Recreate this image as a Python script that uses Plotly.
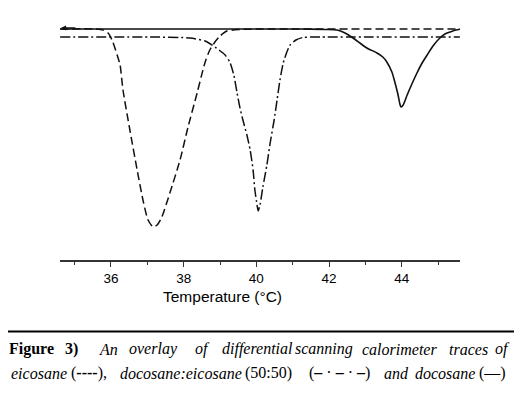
import plotly.graph_objects as go

# Temperatures (°C) and heat-flow signal (arbitrary units, downward = endotherm)
eico_T = [34.60, 35.56, 35.78, 35.92, 36.03, 36.17, 36.25, 36.33, 36.52, 36.72, 36.88, 37.02, 37.16,
          37.27, 37.40, 37.62, 37.90, 38.12, 38.37, 38.53, 38.61, 38.72, 38.86, 39.00, 39.19, 39.55,
          40.10, 45.60]
eico_S = [0, 0, -0.1, -0.4, -1.1, -2.6, -3.6, -6.1, -10.1, -14.1, -17.1, -19.1, -19.8,
          -19.6, -18.8, -16.4, -13.1, -9.8, -6.4, -4.1, -3.1, -2.1, -1.3, -0.7, -0.2, -0.05,
          0, 0]

mix_T = [34.60, 37.07, 38.17, 38.59, 38.86, 39.14, 39.27, 39.38, 39.47, 39.55, 39.63, 39.74, 39.83,
         39.91, 39.96, 40.02, 40.05, 40.10, 40.18, 40.29, 40.38, 40.49, 40.57, 40.65, 40.74, 40.84,
         40.93, 41.09, 41.28, 41.75, 45.60]
mix_S = [-0.8, -0.8, -0.9, -1.2, -1.8, -2.6, -3.3, -4.6, -6.4, -7.9, -9.1, -10.6, -12.1,
         -14.1, -16.1, -17.6, -18.2, -17.6, -15.8, -13.6, -11.4, -9.1, -7.1, -5.1, -3.4, -2.3,
         -1.6, -1.1, -0.85, -0.8, -0.8]

doco_T = [34.60, 41.20, 41.89, 42.22, 42.44, 42.66, 42.85, 43.04, 43.32, 43.48, 43.59, 43.73, 43.81,
          43.90, 43.95, 43.98, 44.04, 44.15, 44.28, 44.42, 44.56, 44.70, 44.86, 45.05, 45.19, 45.33,
          45.49, 45.66]
doco_S = [0, 0, -0.05, -0.1, -0.4, -0.9, -1.4, -1.9, -2.4, -2.8, -3.3, -4.3, -5.3,
          -6.6, -7.5, -7.8, -7.6, -6.6, -5.5, -4.4, -3.4, -2.6, -1.7, -0.9, -0.5, -0.3,
          -0.1, 0]

tick_vals = [36, 38, 40, 42, 44]
tick_text = ["36", "38", "40", "42", "44"]
minor_vals = [35, 37, 39, 41, 43, 45]
x_title = "Temperature (°C)"

cap_line1_words = ["<b>Figure</b>", "<b>3)</b>", "<i>An</i>", "<i>overlay</i>", "<i>of</i>",
                   "<i>differential</i>", "<i>scanning</i>", "<i>calorimeter</i>", "<i>traces</i>", "<i>of</i>"]
cap_line1_pos = [7, 63, 97, 127, 193, 220, 293, 360, 447, 493]
cap_line2_words = ["<i>eicosane</i>", "(<b>----</b>),", "<i>docosane:eicosane</i>", "(50:50)",
                   "(<b>–</b> · <b>–</b> · <b>–</b>)", "<i>and</i>", "<i>docosane</i>", "(—)"]
cap_line2_pos = [9, 69, 118, 243, 307, 382, 413, 477]

# page offset (body margin) in the screenshot
OFF = 8
W, H = 522 - OFF, 393 - OFF
L, T = 60 - OFF, 20 - OFF
pw, ph = 400, 240
R, B = W - L - pw, H - T - ph

def px2paper_x(px):
    return (px - OFF - L) / pw

def px2paper_y(py):
    return (T + ph - (py - OFF)) / ph

fig = go.Figure()
ink = "#111111"
fig.add_trace(go.Scatter(x=eico_T, y=eico_S, mode="lines",
                         line=dict(color=ink, width=1.5, dash="8px,4px", shape="spline", smoothing=0.6),
                         showlegend=False))
fig.add_trace(go.Scatter(x=mix_T, y=mix_S, mode="lines",
                         line=dict(color=ink, width=1.5, dash="10px,3px,2px,3px", shape="spline", smoothing=0.6),
                         showlegend=False))
fig.add_trace(go.Scatter(x=doco_T, y=doco_S, mode="lines",
                         line=dict(color=ink, width=1.6, shape="spline", smoothing=0.6),
                         showlegend=False))

serif = "Liberation Serif, Times New Roman, serif"
annotations = []
annotations.append(dict(x=px2paper_x(222), y=px2paper_y(296), xref="paper", yref="paper", text=x_title,
                        showarrow=False, font=dict(family="Liberation Sans, Arial", size=15.5, color="black"),
                        xanchor="center", yanchor="middle"))
for w, p in zip(cap_line1_words, cap_line1_pos):
    annotations.append(dict(x=px2paper_x(p), y=px2paper_y(349), xref="paper", yref="paper", text=w,
                            showarrow=False, font=dict(family=serif, size=16, color="black"),
                            xanchor="left", yanchor="middle"))
for w, p in zip(cap_line2_words, cap_line2_pos):
    annotations.append(dict(x=px2paper_x(p), y=px2paper_y(373), xref="paper", yref="paper", text=w,
                            showarrow=False, font=dict(family=serif, size=16, color="black"),
                            xanchor="left", yanchor="middle"))
# small arrow at start of the baseline
annotations.append(dict(x=34.62, y=0.1, xref="x", yref="y", ax=16, ay=0, showarrow=True,
                        arrowhead=2, arrowsize=0.8, arrowwidth=1.3, arrowcolor=ink, text=""))

fig.update_layout(
    width=W, height=H, margin=dict(l=L, r=R, t=T, b=B),
    paper_bgcolor="white", plot_bgcolor="white",
    xaxis=dict(range=[34.597, 45.604], tickvals=tick_vals, ticktext=tick_text, showgrid=False, zeroline=False,
               showline=True, linecolor="#333", linewidth=1.5, ticks="outside", ticklen=5, tickwidth=1.2,
               tickcolor="#333", tickfont=dict(family="Liberation Sans, Arial", size=13.5, color="black"),
               minor=dict(tickvals=minor_vals, ticks="outside", ticklen=3, tickwidth=1, tickcolor="#333")),
    yaxis=dict(range=[-23.1, 0.9], visible=False),
    annotations=annotations,
    shapes=[dict(type="line", xref="paper", yref="paper", x0=px2paper_x(OFF), x1=px2paper_x(522),
                 y0=px2paper_y(331.5), y1=px2paper_y(331.5), line=dict(color="black", width=2))],
)
fig.write_html("out.html")
